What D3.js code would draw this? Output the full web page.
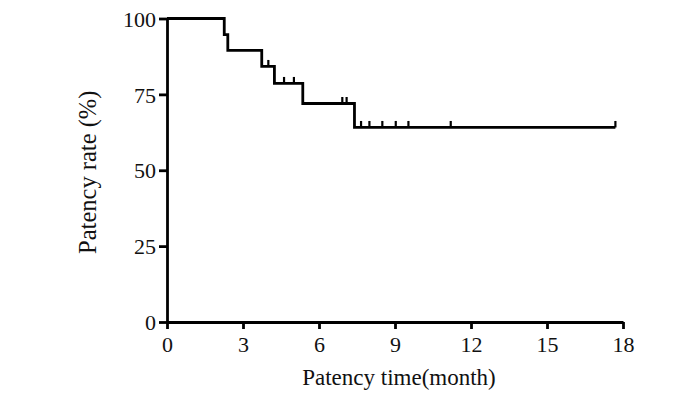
<!DOCTYPE html>
<html>
<head>
<meta charset="utf-8">
<script src="https://cdn.jsdelivr.net/npm/d3@7"></script>
<style>
  body { margin: 0; background: #fff; }
  text { font-family: "Liberation Serif", "Times New Roman", serif; fill: #111; }
</style>
</head>
<body>
<div id="chart"></div>
<script>
// Kaplan-Meier steps
var stepTimes = [0, 2.26, 2.4, 3.74, 4.24, 5.36, 7.4, 17.7];
var stepValues = [100, 94.7, 89.5, 84.2, 78.6, 72.0, 64.1, 64.1];
var censorTimes = [4.0, 4.62, 5.01, 6.92, 7.09, 7.66, 7.99, 8.5, 9.03, 9.53, 11.2, 17.7];
var xTicks = [0, 3, 6, 9, 12, 15, 18];
var yTicks = [0, 25, 50, 75, 100];

var width = 700, height = 397;
var margin = {top: 18.5, right: 77, bottom: 75, left: 167};

var svg = d3.select("#chart").append("svg")
    .attr("width", width)
    .attr("height", height);

var x = d3.scaleLinear().domain([0, 18]).range([margin.left, width - margin.right]);
var y = d3.scaleLinear().domain([0, 100]).range([height - margin.bottom, margin.top]);

function survAt(t) {
    var v = stepValues[0];
    for (var i = 0; i < stepTimes.length; i++) {
        if (stepTimes[i] <= t) v = stepValues[i];
    }
    return v;
}

var xAxis = d3.axisBottom(x).tickValues(xTicks).tickSize(7).tickPadding(6).tickSizeOuter(0);
var yAxis = d3.axisLeft(y).tickValues(yTicks).tickSize(8).tickPadding(3).tickSizeOuter(0);

var gx = svg.append("g")
    .attr("transform", `translate(0, ${y(0)})`)
    .call(xAxis);
var gy = svg.append("g")
    .attr("transform", `translate(${x(0)}, 0)`)
    .call(yAxis);

[gx, gy].forEach(g => {
    g.select(".domain").attr("stroke", "#000").attr("stroke-width", 2.8);
    g.selectAll(".tick line").attr("stroke", "#000").attr("stroke-width", 2.8);
    g.selectAll(".tick text").style("font-size", "22px").attr("fill", "#111");
});
gx.selectAll(".tick text").attr("dy", "0.75em");
gy.selectAll(".tick text").attr("dy", "0.35em");

// survival curve
var pts = stepTimes.map((t, i) => [t, stepValues[i]]);
var line = d3.line()
    .x(d => x(d[0]))
    .y(d => y(d[1]))
    .curve(d3.curveStepAfter);

svg.append("path")
    .datum(pts)
    .attr("fill", "none")
    .attr("stroke", "#000")
    .attr("stroke-width", 2.8)
    .attr("d", line);

// censor marks
svg.selectAll("line.censor")
    .data(censorTimes)
    .enter()
    .append("line")
    .attr("class", "censor")
    .attr("x1", d => x(d))
    .attr("x2", d => x(d))
    .attr("y1", d => y(survAt(d)))
    .attr("y2", d => y(survAt(d)) - 6.5)
    .attr("stroke", "#000")
    .attr("stroke-width", 2.2);

// axis titles
svg.append("text")
    .attr("x", (x(0) + x(18)) / 2 + 4)
    .attr("y", 385)
    .attr("text-anchor", "middle")
    .style("font-size", "23px")
    .text("Patency time(month)");

svg.append("text")
    .attr("transform", `translate(96, ${(y(0) + y(100)) / 2 + 2}) rotate(-90)`)
    .attr("text-anchor", "middle")
    .style("font-size", "24.5px")
    .text("Patency rate (%)");
</script>
</body>
</html>
